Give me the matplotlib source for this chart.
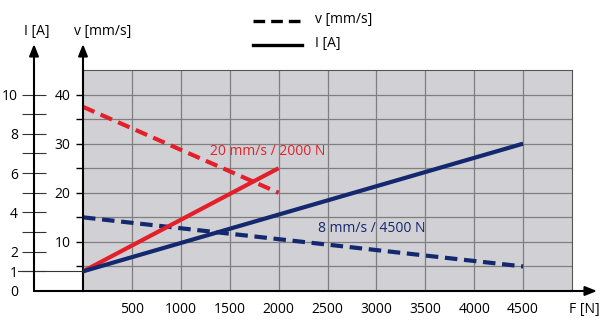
"""
Speed and current versus load force for two drive variants
"""
import matplotlib.pyplot as plt

plt.rcParams['font.family'] = ['Open Sans', 'DejaVu Sans']

# load force [N] at start and end of each characteristic
force_20 = [0, 2000]
force_8 = [0, 4500]

# speed curves v [mm/s]
speed_20 = [37.5, 20.0]
speed_8 = [15.0, 5.0]

# current curves I [A]
current_20 = [1.0, 6.25]
current_8 = [1.0, 7.5]

x_ticks = [500, 1000, 1500, 2000, 2500, 3000, 3500, 4000, 4500]
v_ticks = [10, 20, 30, 40]
i_ticks = [0, 1, 2, 4, 6, 8, 10]
i_minor = [3, 5, 7, 9]

RED = '#e3202a'
NAVY = '#13286e'
W, H = 600, 327

fig = plt.figure(figsize=(6, 3.27), dpi=100)
left, right, top, bottom = 83, 572, 70, 291
ax = fig.add_axes([left / W, 1 - bottom / H, (right - left) / W, (bottom - top) / H])
ax.set_facecolor('#d1d0d5')
ax.set_xlim(0, 5000)
ax.set_ylim(0, 45)

# grid
ax.set_xticks(x_ticks)
ax.set_xticklabels([str(t) for t in x_ticks], fontsize=10)
ax.set_yticks(v_ticks)
ax.set_yticklabels([str(t) for t in v_ticks], fontsize=10)
ax.set_yticks([5, 15, 25, 35], minor=True)
ax.grid(True, which='both', color='#7f7f7f', linewidth=0.9)
ax.set_axisbelow(True)
ax.tick_params(axis='x', length=0, pad=8)
ax.tick_params(axis='y', which='both', length=5, width=1, direction='out', pad=4)
for side in ['top', 'right']:
    ax.spines[side].set_color('#555555')
    ax.spines[side].set_linewidth(0.8)
ax.spines['left'].set_linewidth(1.5)
ax.spines['bottom'].set_linewidth(1.5)

# speed curves (dashed)
dash = (0, (3, 1.6))
ax.plot(force_20, speed_20, color=RED, lw=3, linestyle=dash, solid_capstyle='butt')
ax.plot(force_8, speed_8, color=NAVY, lw=3, linestyle=dash, solid_capstyle='butt')

# current axis, 10 A aligned with 40 mm/s, 49 px left of the speed axis
ax2 = ax.twinx()
ax2.set_ylim(0, 45 / 4)
for side in ['right', 'top', 'bottom', 'left']:
    ax2.spines[side].set_visible(False)
ax2.yaxis.set_ticks_position('left')
ax2.spines['left'].set_position(('outward', 49 * 72 / 100))
ax2.set_yticks(i_ticks)
ax2.set_yticklabels([str(t) for t in i_ticks], fontsize=10)
ax2.set_yticks(i_minor, minor=True)
ax2.tick_params(axis='y', which='both', direction='inout', length=17, width=0.8,
                color='#333333', pad=3)
ax2.yaxis.get_major_ticks()[0].tick1line.set_visible(False)
ax2.axhline(1, xmin=-0.133, xmax=0, color='#333333', lw=0.8, clip_on=False)

ax2.plot(force_20, current_20, color=RED, lw=3, solid_capstyle='butt')
ax2.plot(force_8, current_8, color=NAVY, lw=3, solid_capstyle='butt')

ax.text(1300, 28.4, '20 mm/s / 2000 N', color=RED, fontsize=10, va='center')
ax.text(2400, 12.7, '8 mm/s / 4500 N', color=NAVY, fontsize=10, va='center')

# axis arrows, labels and legend in pixel coordinates
ov = fig.add_axes([0, 0, 1, 1], zorder=5)
ov.set_xlim(0, W)
ov.set_ylim(H, 0)
ov.axis('off')
ov.patch.set_alpha(0)

arrow = dict(arrowstyle='-|>,head_length=0.7,head_width=0.28', lw=1.5,
             color='black', shrinkA=0, shrinkB=0)
ov.annotate('', xy=(34, 44), xytext=(34, 291), arrowprops=arrow)
ov.annotate('', xy=(83, 44), xytext=(83, 72), arrowprops=arrow)
ov.annotate('', xy=(597, 291), xytext=(570, 291), arrowprops=arrow)
ov.plot([33.3, 84], [291, 291], color='black', lw=1.5, solid_capstyle='butt')

ov.text(37, 32, 'I [A]', fontsize=10, ha='center', va='center')
ov.text(103, 32, 'v [mm/s]', fontsize=10, ha='center', va='center')
ov.text(584, 310, 'F [N]', fontsize=10, ha='center', va='center')

ov.plot([253, 302], [21, 21], color='black', lw=2.4, linestyle=(0, (3.5, 1.8)))
ov.plot([253, 302], [45, 45], color='black', lw=2.4)
ov.text(315, 19, 'v [mm/s]', fontsize=10, va='center')
ov.text(315, 43, 'I [A]', fontsize=10, va='center')

fig.savefig('out.png', dpi=100)
